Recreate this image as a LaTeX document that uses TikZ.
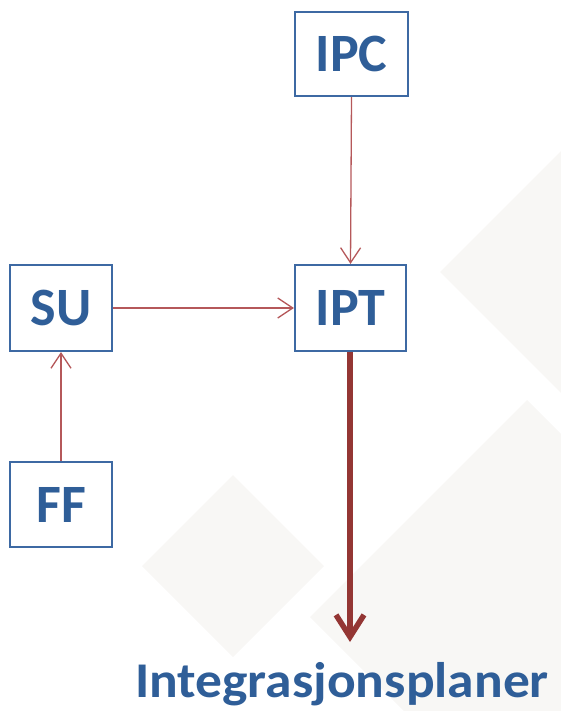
\documentclass[tikz,border=0pt]{standalone}
\usepackage{fontspec}
\setmainfont{Carlito}
\usetikzlibrary{arrows.meta}
\definecolor{boxblue}{HTML}{3D69A3}
\definecolor{textblue}{HTML}{2F5E98}
\definecolor{thinred}{HTML}{B5585A}
\definecolor{darkred}{HTML}{943634}
\definecolor{bgshade}{HTML}{F8F7F5}
\tikzset{
  unit/.style={draw=boxblue, line width=2.2pt, fill=white, text=textblue,
    font=\fontsize{54}{54}\selectfont\bfseries, inner sep=0pt},
  link/.style={draw=thinred, line width=1.3pt,
    -{Straight Barb[length=15pt, width=20pt, line width=1.3pt]}},
  mainlink/.style={draw=darkred, line width=5.5pt,
    -{Straight Barb[length=22pt, width=28pt, line width=5.5pt]}},
}
\begin{document}
\begin{tikzpicture}[x=1pt, y=-1pt]
  \useasboundingbox (0,0) rectangle (560,711);
  % faint background diamonds
  \fill[bgshade] (440,272) -- (700,12) -- (960,272) -- (700,532) -- cycle;
  \fill[bgshade] (310,617) -- (527,400) -- (744,617) -- (527,834) -- cycle;
  \fill[bgshade] (142,566) -- (233,475) -- (324,566) -- (233,657) -- cycle;

  % boxes
  \node[unit, minimum width=113pt, minimum height=84pt] (ipc) at (351.5,54) {IPC};
  \node[unit, minimum width=111pt, minimum height=86pt] (ipt) at (350.5,308) {IPT};
  \node[unit, minimum width=102pt, minimum height=86pt] (su) at (61,308) {SU};
  \node[unit, minimum width=102pt, minimum height=85pt] (ff) at (61,504.5) {FF};

  % result label
  \node[anchor=base west, inner sep=0pt, text=textblue, xscale=1.07,
    font=\fontsize{50}{50}\selectfont\bfseries] (plan) at (135,697) {Integrasjonsplaner};
  \coordinate (tip) at (350,642);

  % connectors
  \draw[link] (ipc.south) -- (ipt.north);
  \draw[link] (su.east) -- (ipt.west);
  \draw[link] (ff.north) -- (su.south);
  \draw[mainlink] (ipt.south -| tip) -- (tip);
\end{tikzpicture}
\end{document}
